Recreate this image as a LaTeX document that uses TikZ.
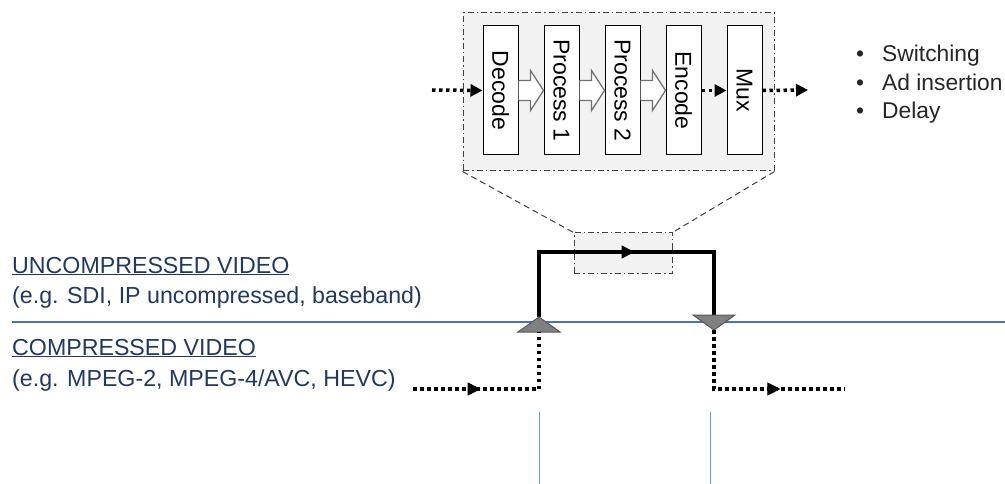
\documentclass[tikz,border=0pt]{standalone}
\usepackage{fontspec}
\setmainfont{Liberation Sans}
\usetikzlibrary{arrows.meta, positioning, calc, decorations.markings}
\definecolor{C_LINE}{HTML}{4472C4}
\definecolor{C_TICK}{HTML}{5B9BD5}
\definecolor{C_TEXT}{HTML}{203864}
\definecolor{C_ZOOM}{HTML}{F2F2F2}

\begin{document}
\begin{tikzpicture}[
  x=1pt, y=-1pt,
  node distance=0pt and 25pt,
  blk/.style={draw, line width=1pt, fill=white, minimum width=35pt,
              minimum height=129pt, inner sep=0pt, font=\fontsize{23}{27}\selectfont},
  callout/.style={draw=black!75, fill=C_ZOOM, line width=1pt,
                  dash pattern=on 6pt off 3pt on 1.5pt off 3pt},
  hollow/.style={draw=black!55, fill=white, line width=1.3pt},
  feed/.style={line width=3.5pt, dash pattern=on 3.5pt off 3.5pt},
  tip/.style={-{Triangle[length=12pt,width=12pt]}},
  route/.style={line width=4pt},
  midtip/.style={postaction={decorate}, decoration={markings,
                 mark=at position #1 with {\arrow[line width=1pt]{Triangle[length=13pt,width=13pt]}}}},
  valve/.style={draw=black!65, fill=black!50, line width=1pt},
  lbl/.style={text=C_TEXT, anchor=base west, inner sep=0pt, font=\fontsize{23.2}{27}\selectfont},
]
\useasboundingbox (0,0) rectangle (1005,484);

%% Zoomed processing chain
\node[callout, minimum width=311pt, minimum height=158pt] (zoom) at (618.5,92) {};
\node[blk] (decode) at (500.5,90.5) {\rotatebox{-90}{Decode}};
\node[blk, right=of decode] (proc1)  {\rotatebox{-90}{Process 1}};
\node[blk, right=of proc1]  (proc2)  {\rotatebox{-90}{Process 2}};
\node[blk, right=of proc2]  (encode) {\rotatebox{-90}{Encode}};
\node[blk, right=of encode] (mux)    {\rotatebox{-90}{Mux}};

\foreach \a/\b in {decode/proc1, proc1/proc2, proc2/encode}
  \draw[hollow] ($(\a.east)+(0,-10)$) -- ($(\b.west)+(-13,-10)$) -- ($(\b.west)+(-13,-20)$)
    -- (\b.west) -- ($(\b.west)+(-13,20)$) -- ($(\b.west)+(-13,10)$) -- ($(\a.east)+(0,10)$);

\coordinate (chainin)  at (432,90);
\coordinate (chainout) at (808,90);
\draw[feed, tip] (chainin) -- (decode.west);
\draw[feed, tip] (encode.east) -- (mux.west);
\draw[feed, tip] (mux.east) -- (chainout);

%% Use cases
\node[anchor=north west, align=left, inner sep=0pt, text=black!85,
      font=\fontsize{22.8}{28.5}\selectfont] (uses) at (856,45)
  {\makebox[26pt][l]{\textbullet}Switching\\
   \makebox[26pt][l]{\textbullet}Ad insertion\\
   \makebox[26pt][l]{\textbullet}Delay};

%% Domain labels and boundary
\node[lbl] (uncomp)  at (12,273) {\underline{UNCOMPRESSED VIDEO}};
\node[lbl] (uncompx) at (12,303) {(e.g. SDI, IP uncompressed, baseband)};
\node[lbl] (comp)    at (12,355) {\underline{COMPRESSED VIDEO}};
\node[lbl] (compx)   at (12,386) {(e.g. MPEG-2, MPEG-4/AVC, HEVC)};

\coordinate (bndl) at (12,322);
\coordinate (bndr) at (1005,322);
\draw[C_LINE, line width=2.3pt] (bndl) -- (bndr);

%% Decode/re-encode loop
\node[callout, minimum width=98pt, minimum height=40pt] (mini) at (623,253) {};
\draw[black!75, line width=1pt, dash pattern=on 6pt off 4pt] (zoom.south west) -- (mini.north west);
\draw[black!75, line width=1pt, dash pattern=on 6pt off 4pt] (zoom.south east) -- (mini.north east);

\coordinate (ingress) at (539,317);
\coordinate (inbase)  at (539,332);
\coordinate (egress)  at (714,315);
\coordinate (outbase) at (714,330);
\draw[route, midtip=.53] (ingress) -- ++(0,-65) -| (egress);
\draw[valve] (ingress) -- ++(21,15) -- ++(-42,0) -- cycle;
\draw[valve] (egress) ++(-21,0) -- ++(42,0) -- (outbase) -- cycle;

%% Compressed stream in and out
\coordinate (srcin)   at (413,389);
\coordinate (sinkout) at (845,389);
\draw[feed, midtip=.37] (srcin) -| (inbase);
\draw[feed, midtip=.66] (outbase) |- (sinkout);

%% Splice markers
\coordinate (tickl) at (539,412);
\coordinate (tickr) at (710,412);
\draw[C_TICK, line width=1pt] (tickl) -- ++(0,72);
\draw[C_TICK, line width=1pt] (tickr) -- ++(0,72);

\end{tikzpicture}
\end{document}
